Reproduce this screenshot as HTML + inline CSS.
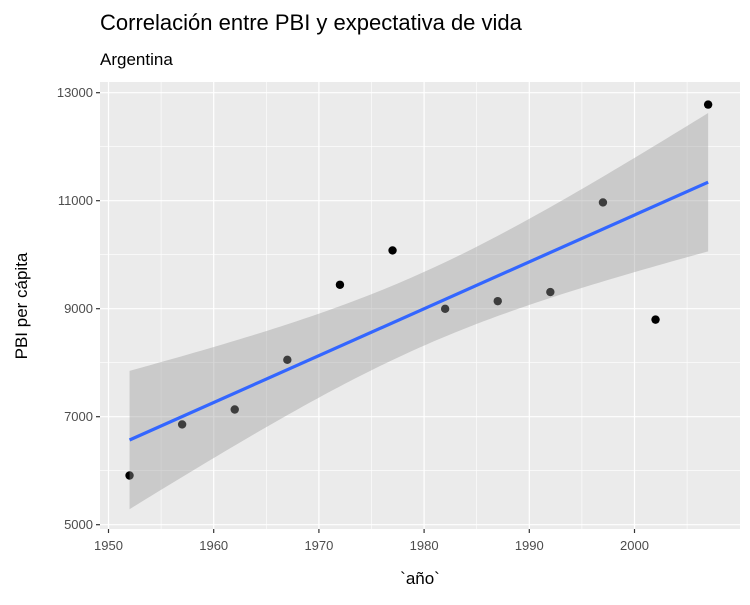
<!DOCTYPE html>
<html><head><meta charset="utf-8"><style>
body{margin:0;background:#fff;font-family:"Liberation Sans",sans-serif}
</style></head><body>
<svg width="750" height="600" xmlns="http://www.w3.org/2000/svg" id="chart">
<text x="100" y="30" font-size="22" fill="#000">Correlación entre PBI y expectativa de vida</text>
<text x="100" y="65" font-size="17" fill="#000">Argentina</text>
<rect x="100" y="82" width="640" height="447" fill="#ebebeb"/>
<g id="grid"></g><g id="pts"></g><g id="ribbon"></g><g id="fit"></g><g id="axes"></g>
<text x="420" y="584" font-size="17" text-anchor="middle">`año`</text>
<text transform="translate(27,306) rotate(-90)" font-size="17" text-anchor="middle">PBI per cápita</text>
</svg>
<script>
const years=[1952,1957,1962,1967,1972,1977,1982,1987,1992,1997,2002,2007];
const gdp=[5911.3,6856.9,7133.2,8053.0,9443.0,10079.0,8997.9,9139.7,9308.4,10967.3,8797.6,12779.4];
const xTicks=[1950,1960,1970,1980,1990,2000];
const yTicks=[5000,7000,9000,11000,13000];
const NS="http://www.w3.org/2000/svg";
const sx=v=>108.5+(v-1950)*10.52;
const sy=v=>524.7-(v-5000)*0.054;
function mk(t,a,p){const e=document.createElementNS(NS,t);for(const k in a)e.setAttribute(k,a[k]);p.appendChild(e);return e;}
const grid=document.getElementById('grid'),axes=document.getElementById('axes');
for(let i=0;i<xTicks.length;i++){
 const m=xTicks[i]+5;
 if(sx(m)<740){const l=mk('line',{x1:sx(m),x2:sx(m),y1:82,y2:529,stroke:'#fff','stroke-width':0.6},grid);
 }
 const g=mk('line',{x1:sx(xTicks[i]),x2:sx(xTicks[i]),y1:82,y2:529,stroke:'#fff','stroke-width':1.2},grid);
 
 mk('line',{x1:sx(xTicks[i]),x2:sx(xTicks[i]),y1:529,y2:533,stroke:'#333','stroke-width':1.2},axes);
 const t=mk('text',{x:sx(xTicks[i]),y:550,'font-size':13,fill:'#4d4d4d','text-anchor':'middle'},axes);
 t.textContent=xTicks[i];
 
}
for(let i=0;i<yTicks.length;i++){
 if(i<yTicks.length-1){const l=mk('line',{x1:100,x2:740,y1:sy(yTicks[i]+1000),y2:sy(yTicks[i]+1000),stroke:'#fff','stroke-width':0.6},grid);
 }
 const g=mk('line',{x1:100,x2:740,y1:sy(yTicks[i]),y2:sy(yTicks[i]),stroke:'#fff','stroke-width':1.2},grid);
 
 mk('line',{x1:96,x2:100,y1:sy(yTicks[i]),y2:sy(yTicks[i]),stroke:'#333','stroke-width':1.2},axes);
 const t=mk('text',{x:93,y:sy(yTicks[i])+4.5,'font-size':13,fill:'#4d4d4d','text-anchor':'end'},axes);
 t.textContent=yTicks[i];
 
}
const n=years.length,xm=years.reduce((a,b)=>a+b)/n,ym=gdp.reduce((a,b)=>a+b)/n;
let sxx=0,sxy=0;for(let i=0;i<n;i++){sxx+=(years[i]-xm)**2;sxy+=(years[i]-xm)*(gdp[i]-ym);}
const b=sxy/sxx,a=ym-b*xm;let sse=0;for(let i=0;i<n;i++)sse+=(gdp[i]-a-b*years[i])**2;
const s=Math.sqrt(sse/(n-2)),tq=2.228;
const x0=Math.min(...years),x1=Math.max(...years);
let up=[],lo=[];
for(let k=0;k<=80;k++){const x=x0+(x1-x0)*k/80,f=a+b*x,se=s*Math.sqrt(1/n+(x-xm)**2/sxx);
 up.push(sx(x)+','+sy(f+tq*se));lo.unshift(sx(x)+','+sy(f-tq*se));}
const rb=document.getElementById('ribbon');
const r=mk('polygon',{points:up.concat(lo).join(' '),fill:'#999','fill-opacity':0.4},rb);

const pg=document.getElementById('pts');
for(let i=0;i<n;i++){const c=mk('circle',{cx:sx(years[i]),cy:sy(gdp[i]),r:4.2,fill:'#000'},pg);
 }
const fg=document.getElementById('fit');
const ln=mk('line',{x1:sx(x0),y1:sy(a+b*x0),x2:sx(x1),y2:sy(a+b*x1),stroke:'#3366FF','stroke-width':3.2},fg);

</script>
</body></html>
